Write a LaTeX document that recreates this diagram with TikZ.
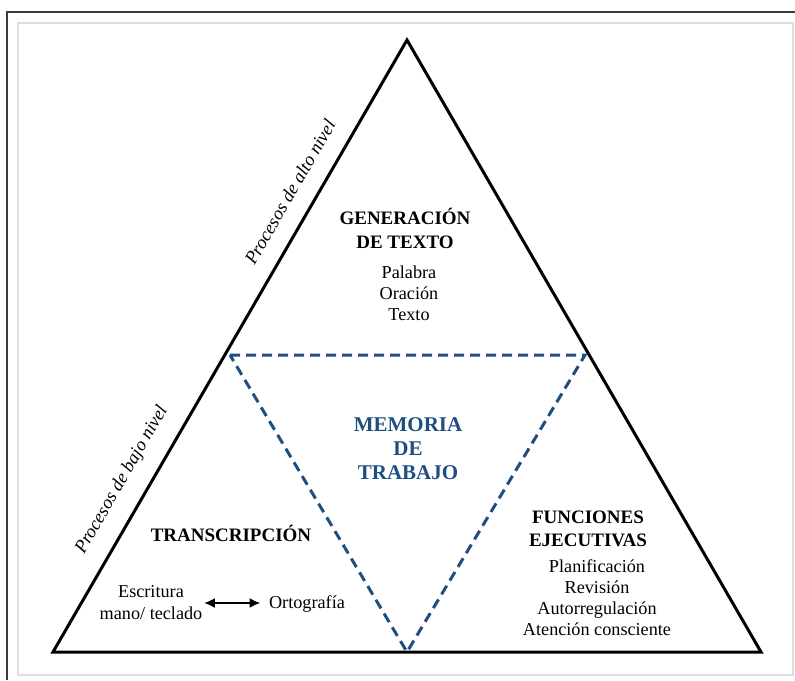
\documentclass[tikz,border=0pt]{standalone}
\usepackage{fontspec}
\setmainfont{Liberation Serif}
\usetikzlibrary{arrows.meta}
\definecolor{memblue}{RGB}{31,78,128}
\definecolor{framedark}{RGB}{60,60,60}
\definecolor{framelight}{RGB}{222,222,222}
\tikzset{
  outer side/.style={
    draw=black,
    line width=3pt,
    line join=miter
  },
  memory side/.style={
    draw=memblue,
    line width=3pt,
    dash pattern=on 10pt off 6pt
  },
  heading/.style={
    font=\bfseries\fontsize{19}{24}\selectfont,
    align=center
  },
  items/.style={
    font=\fontsize{18.2}{21}\selectfont,
    align=center
  },
  level label/.style={
    font=\itshape\fontsize{18.5}{22}\selectfont,
    rotate=60
  },
  both ways/.style={
    {Latex[length=11pt,width=10pt]}-{Latex[length=11pt,width=10pt]},
    line width=2.2pt
  }
}

\begin{document}
\begin{tikzpicture}[x=1pt, y=-1pt]
  \useasboundingbox (0,0) rectangle (795,680);
  % Frame
  \draw[framelight, line width=1.5pt] (18,23) rectangle (793,675);
  \draw[framedark, line width=2.2pt] (7,680) -- (7,12) -- (795,12);

  % Corners of the triangles
  \coordinate (apex) at (407,40);
  \coordinate (bl) at (53,652);
  \coordinate (br) at (761,652);
  \coordinate (ml) at (230,355);
  \coordinate (mr) at (585,355);
  \coordinate (mb) at (407,652);

  % Sides
  \draw[outer side] (apex) -- (br) -- (bl) -- cycle;
  \draw[memory side] (ml) -- (mr) -- (mb) -- cycle;

  % Texts
  \node [heading] (gen) at (405,228) {GENERACIÓN\\DE TEXTO};
  \node [items] (genitems) at (409,293) {Palabra\\Oración\\Texto};
  \node [heading, text=memblue, font=\bfseries\fontsize{21}{24}\selectfont] (mem) at (408,449) {MEMORIA\\DE\\TRABAJO};
  \node [heading] (trans) at (231,533) {TRANSCRIPCIÓN};
  \node [items, font=\fontsize{18.2}{22}\selectfont] (escr) at (151,603) {Escritura\\mano/ teclado};
  \node [items] (orto) at (307,604) {Ortografía};
  \node [heading, font=\bfseries\fontsize{19}{23}\selectfont] (func) at (588,529) {FUNCIONES\\EJECUTIVAS};
  \node [items] (funcitems) at (597,598) {Planificación\\Revisión\\Autorregulación\\Atención consciente};
  \node [level label] (alto) at (290,192) {Procesos de alto nivel};
  \node [level label] (bajo) at (122,480) {Procesos de bajo nivel};

  % Arrow
  \draw[both ways, shorten <=-2pt, shorten >=5pt] (escr.east) -- (escr.east -| orto.west);
\end{tikzpicture}
\end{document}
